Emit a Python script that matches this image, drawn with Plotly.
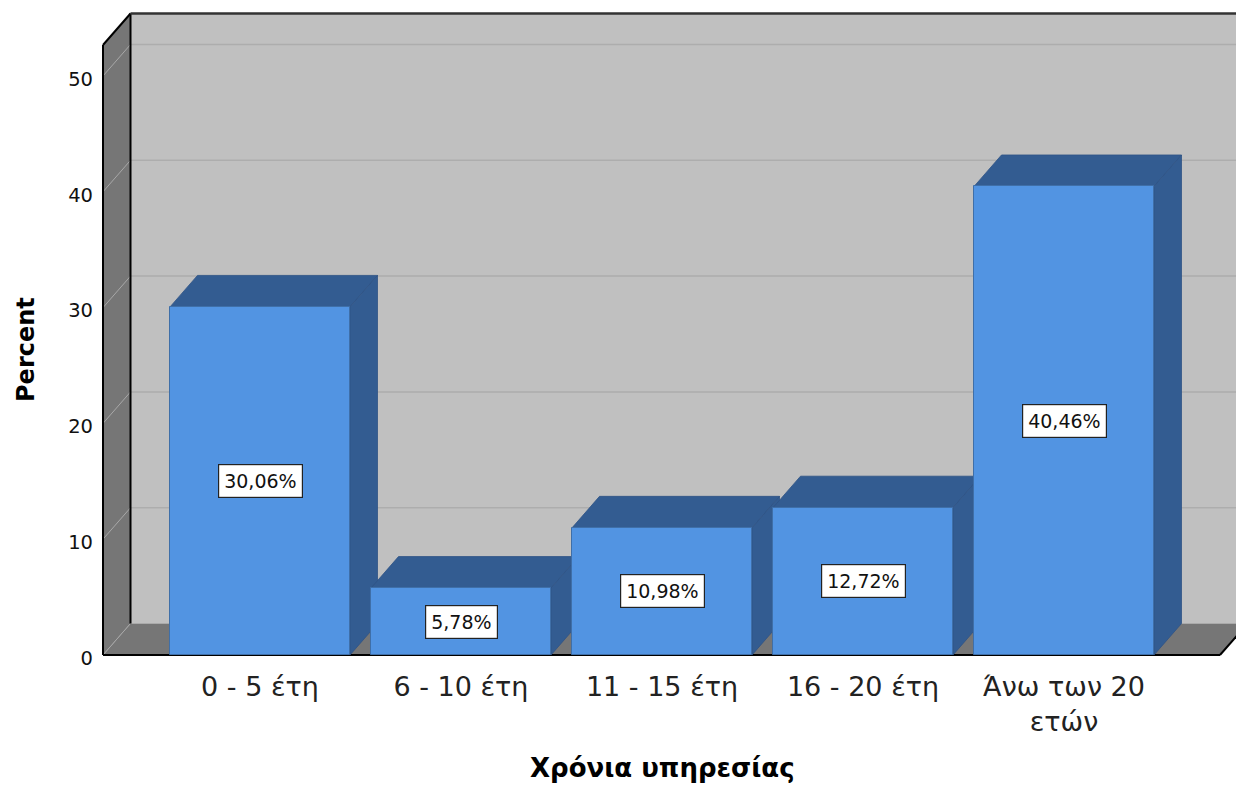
import plotly.graph_objects as go

# Years of service distribution (percent of respondents)
categories = ["0 - 5 έτη", "6 - 10 έτη", "11 - 15 έτη", "16 - 20 έτη", "Άνω των 20<br>ετών"]
percents = [30.06, 5.78, 10.98, 12.72, 40.46]
y_ticks = [0, 10, 20, 30, 40, 50]

# Pixel geometry of the pseudo-3D frame
W, H = 1236, 787
PLOT_L, PLOT_R, PLOT_T, PLOT_B = 98, 1236, 10, 658
ZERO_PX = 655          # pixel row of value 0 on the front plane
PX_PER_Y = 11.58       # pixels per percent
CAT0_PX = 260          # pixel column of first category centre
PX_PER_X = 201         # pixels between category centres
WALL_PX = 103          # front edge of the left wall
FLOOR_END_PX = 1220    # front right corner of the floor
DEPTH_PX = (27.5, 31.5)

X_MIN = (PLOT_L - CAT0_PX) / PX_PER_X
X_MAX = (PLOT_R - CAT0_PX) / PX_PER_X
Y_MIN = (ZERO_PX - PLOT_B) / PX_PER_Y
Y_MAX = (ZERO_PX - PLOT_T) / PX_PER_Y
DX = DEPTH_PX[0] / PX_PER_X
DY = DEPTH_PX[1] / PX_PER_Y
XL = (WALL_PX - CAT0_PX) / PX_PER_X
XF = (FLOOR_END_PX - CAT0_PX) / PX_PER_X
WALL_TOP = 52.68
BAR_W = 180 / PX_PER_X

FRONT = "#5294E2"
SHADE = "#335C91"
WALL = "#767676"
BACK = "#C0C0C0"
FONT = "DejaVu Sans"


def path(pts):
    return "M " + " L ".join(f"{x:.5f},{y:.5f}" for x, y in pts) + " Z"


def poly(pts, fill, lw=0, lc="rgba(0,0,0,0)"):
    return dict(type="path", xref="x", yref="y", path=path(pts), fillcolor=fill,
                line=dict(width=lw, color=lc), layer="below")


def seg(x0, y0, x1, y1, color, width):
    return dict(type="line", xref="x", yref="y", x0=x0, y0=y0, x1=x1, y1=y1,
                line=dict(color=color, width=width), layer="below")


shapes = []
# back wall, left wall and floor
shapes.append(poly([(XL + DX, DY), (X_MAX + 1, DY), (X_MAX + 1, WALL_TOP + DY),
                    (XL + DX, WALL_TOP + DY)], BACK))
shapes.append(poly([(XL, 0), (XL + DX, DY), (XL + DX, WALL_TOP + DY), (XL, WALL_TOP)], WALL))
shapes.append(poly([(XL, 0), (XF, 0), (XF + DX, DY), (XL + DX, DY)], WALL))

# grid lines on the back wall and across the left wall
for v in y_ticks:
    if v > 0:
        shapes.append(seg(XL + DX, v + DY, X_MAX + 1, v + DY, "#ADADAD", 1.5))
    shapes.append(seg(XL, v, XL + DX, v + DY, "#A8A8A8", 1))

# frame outlines
shapes.append(seg(XL, 0, XL, WALL_TOP, "#000000", 2))
shapes.append(seg(XL + DX, DY, XL + DX, WALL_TOP + DY, "#000000", 2))
shapes.append(seg(XL, WALL_TOP, XL + DX, WALL_TOP + DY, "#000000", 2))
shapes.append(seg(XL + DX, WALL_TOP + DY, X_MAX + 1, WALL_TOP + DY, "#333333", 2.5))
shapes.append(seg(XL, 0, XF, 0, "#000000", 2))
shapes.append(seg(XF, 0, XF + DX, DY, "#000000", 2))

# top and side faces of each bar
for i, v in enumerate(percents):
    x0, x1 = i - BAR_W / 2, i + BAR_W / 2
    shapes.append(poly([(x0, v), (x1, v), (x1 + DX, v + DY), (x0 + DX, v + DY)],
                       SHADE, 0.8, "#2E5385"))
    shapes.append(poly([(x1, 0), (x1 + DX, DY), (x1 + DX, v + DY), (x1, v)],
                       SHADE, 0.8, "#2E5385"))

fig = go.Figure()
fig.add_trace(go.Bar(
    x=list(range(len(categories))), y=percents, width=BAR_W,
    marker=dict(color=FRONT, line=dict(color="#3F6FA8", width=1)),
    hoverinfo="skip", showlegend=False,
))

annotations = []
for i, v in enumerate(percents):
    annotations.append(dict(
        x=i, y=v / 2, xref="x", yref="y", text=f"{v:.2f}%".replace(".", ","),
        showarrow=False, font=dict(family=FONT, size=19, color="#111111"),
        bgcolor="#FFFFFF", bordercolor="#222222", borderwidth=1.2, borderpad=5,
    ))

annotations.append(dict(
    x=2, y=(PLOT_B - 785) / (PLOT_B - PLOT_T), xref="x", yref="paper",
    text="<b>Χρόνια υπηρεσίας</b>", showarrow=False,
    font=dict(family=FONT, size=26, color="#000000"), yanchor="bottom",
))
annotations.append(dict(
    x=(26 - PLOT_L) / (PLOT_R - PLOT_L), y=WALL_TOP / 2, xref="paper", yref="y",
    text="<b>Percent</b>", textangle=-90, showarrow=False,
    font=dict(family=FONT, size=24, color="#000000"),
    xanchor="center", yanchor="middle",
))

fig.update_layout(
    width=W, height=H, autosize=False,
    margin=dict(l=PLOT_L, r=W - PLOT_R, t=PLOT_T, b=H - PLOT_B, pad=0),
    paper_bgcolor="#FFFFFF", plot_bgcolor="#FFFFFF",
    shapes=shapes, annotations=annotations, bargap=0,
    xaxis=dict(range=[X_MIN, X_MAX], tickvals=list(range(len(categories))),
               ticktext=categories, showgrid=False, zeroline=False, showline=False,
               ticks="", ticklabelstandoff=10,
               tickfont=dict(family=FONT, size=27, color="#222222"),
               fixedrange=True),
    yaxis=dict(range=[Y_MIN, Y_MAX], tickvals=y_ticks, showgrid=False, zeroline=False,
               showline=False, ticks="", ticklabelstandoff=4, ticklabelshift=3,
               tickfont=dict(family=FONT, size=19.5, color="#111111"), fixedrange=True),
)

fig.write_html("out.html", config={"displayModeBar": False})
